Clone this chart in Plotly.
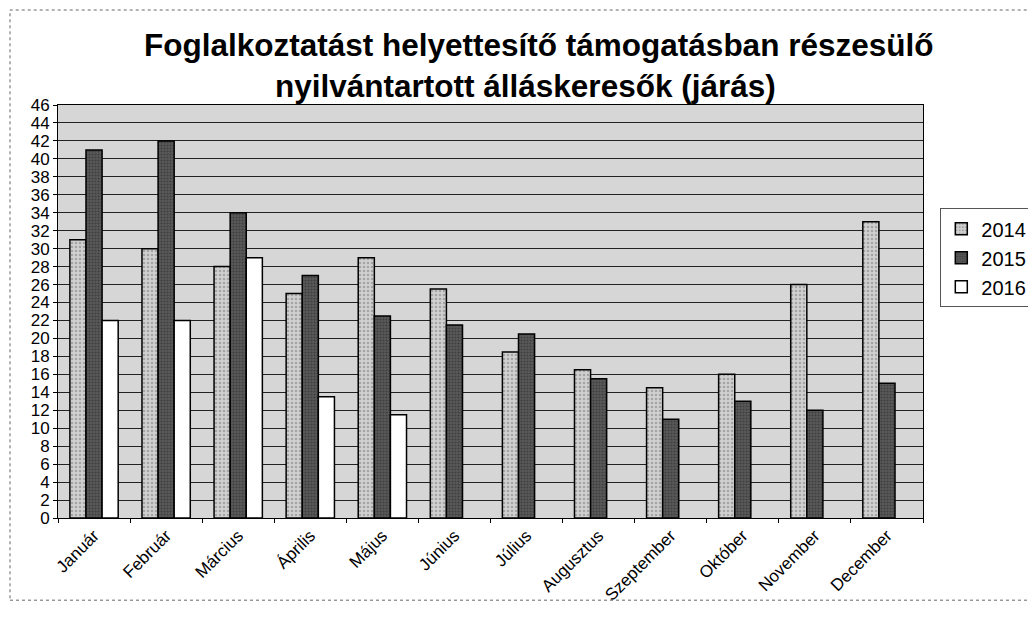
import plotly.graph_objects as go

months = ["Január", "Február", "Március", "Április", "Május", "Június",
          "Július", "Augusztus", "Szeptember", "Október", "November", "December"]
v2014 = [31, 30, 28, 25, 29, 25.5, 18.5, 16.5, 14.5, 16, 26, 33]
v2015 = [41, 42, 34, 27, 22.5, 21.5, 20.5, 15.5, 11, 13, 12, 15]
v2016 = [22, 22, 29, 13.5, 11.5, None, None, None, None, None, None, None]
series_names = ["2014", "2015", "2016"]
yticks = list(range(0, 47, 2))
title_lines = ["Foglalkoztatást helyettesítő támogatásban részesülő",
               "nyilvántartott álláskeresők (járás)"]

fig = go.Figure()
fig.add_trace(go.Bar(x=months, y=v2014, name=series_names[0],
                     marker=dict(color="#c8c8c8", line=dict(color="black", width=1.5),
                                 pattern=dict(shape=".", fgcolor="#777777", bgcolor="#d0d0d0", size=4, solidity=0.3))))
fig.add_trace(go.Bar(x=months, y=v2015, name=series_names[1],
                     marker=dict(color="#444444", line=dict(color="black", width=1.5),
                                 pattern=dict(shape=".", fgcolor="#222222", bgcolor="#5a5a5a", size=3, solidity=0.4))))
fig.add_trace(go.Bar(x=months, y=v2016, name=series_names[2],
                     marker=dict(color="white", line=dict(color="black", width=1.5))))

fig.update_layout(
    width=1036, height=638,
    paper_bgcolor="white",
    plot_bgcolor="#d6d6d6",
    barmode="group", bargap=0.33, bargroupgap=0,
    margin=dict(l=50, r=121, t=97, b=128),
    font=dict(family="Liberation Sans, Arial", color="black"),
    legend=dict(x=1.02, xanchor="left", y=0.75, yanchor="top",
                font=dict(size=20, color="black"),
                bordercolor="#555555", borderwidth=1, bgcolor="white",
                itemwidth=30, tracegroupgap=4),
    xaxis=dict(tickangle=-45, tickfont=dict(size=17), showline=True, linecolor="black",
               ticks="outside", ticklen=4, tickcolor="black", mirror=True, tickson="boundaries"),
    yaxis=dict(range=[0, 46], tickvals=yticks, tickfont=dict(size=17), showgrid=True,
               gridcolor="#222222", gridwidth=1, showline=True, linecolor="black",
               ticks="outside", ticklen=4, tickcolor="black", mirror=True, zeroline=False),
    annotations=[dict(text="<b>" + title_lines[0] + "</b>", xref="paper", yref="paper",
                      x=0.555, y=1.145, xanchor="center", yanchor="middle", showarrow=False,
                      font=dict(family="Liberation Sans, Arial", size=31.5, color="black")),
                 dict(text="<b>" + title_lines[1] + "</b>", xref="paper", yref="paper",
                      x=0.54, y=1.045, xanchor="center", yanchor="middle", showarrow=False,
                      font=dict(family="Liberation Sans, Arial", size=31.5, color="black"))],
    shapes=[dict(type="rect", xref="paper", yref="paper", x0=-0.0555, x1=1.124, y0=-0.199, y1=1.23,
                 line=dict(color="#666666", width=1, dash="dot"))],
)

fig.write_html("out.html")
